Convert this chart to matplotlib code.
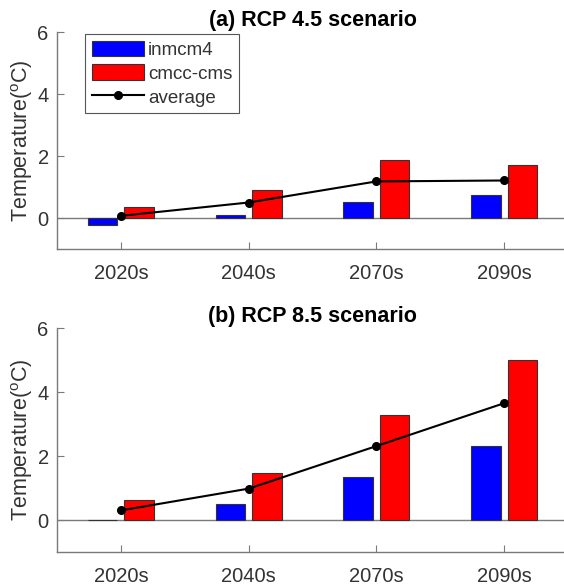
import matplotlib
matplotlib.use("Agg")
import matplotlib.pyplot as plt
import numpy as np

plt.rcParams['font.family'] = ['Liberation Sans', 'DejaVu Sans']

decades = ['2020s', '2040s', '2070s', '2090s']

# RCP 4.5
inmcm4_45 = [-0.23, 0.11, 0.51, 0.73]
cmcc_45 = [0.37, 0.89, 1.87, 1.70]
avg_45 = [0.07, 0.50, 1.18, 1.21]

# RCP 8.5
inmcm4_85 = [-0.01, 0.51, 1.34, 2.32]
cmcc_85 = [0.62, 1.47, 3.27, 4.99]
avg_85 = [0.30, 0.98, 2.31, 3.65]

titles = ['(a) RCP 4.5 scenario', '(b) RCP 8.5 scenario']

spine_col = '#7a7a7a'
text_col = '#333333'

fig = plt.figure(figsize=(5.64, 5.86), dpi=100)
ax1 = fig.add_axes([57/564, 1 - 249/586, 511/564, 217/586])
ax2 = fig.add_axes([57/564, 1 - 552/586, 511/564, 224/586])

x = np.arange(1, len(decades) + 1)
w = 0.23
off = 0.143

for ax, blue, red, avg, title in [(ax1, inmcm4_45, cmcc_45, avg_45, titles[0]),
                                  (ax2, inmcm4_85, cmcc_85, avg_85, titles[1])]:
    ax.axhline(0, color=spine_col, lw=1.0, zorder=1)
    ax.bar(x - off, blue, w, color='#0000ff', edgecolor='#333333', lw=0.8,
           label='inmcm4', zorder=2)
    ax.bar(x + off, red, w, color='#ff0000', edgecolor='#333333', lw=0.8,
           label='cmcc-cms', zorder=2)
    ax.plot(x, avg, '-o', color='black', lw=1.5, ms=5.5, label='average', zorder=3)

    ax.set_xlim(0.5, 4.5)
    ax.set_ylim(-1, 6)
    ax.set_yticks([0, 2, 4, 6])
    ax.set_xticks(x)
    ax.set_xticklabels(decades)
    ax.tick_params(direction='in', length=5, width=0.8, color=spine_col,
                   labelcolor=text_col, labelsize=14.5, pad=11)
    ax.tick_params(axis='y', pad=6)
    for s in ['top', 'right']:
        ax.spines[s].set_visible(False)
    for s in ['left', 'bottom']:
        ax.spines[s].set_color(spine_col)
        ax.spines[s].set_linewidth(1.0)
    ax.set_ylabel('Temperature($\\mathregular{^{o}}$C)', fontsize=15.5,
                  color=text_col, labelpad=2)
    ax.set_title(title, fontsize=15.5, fontweight='bold', color='black', pad=4)

# legend only on the top panel, bars first then the line
handles, labels = ax1.get_legend_handles_labels()
order = [labels.index(n) for n in ['inmcm4', 'cmcc-cms', 'average']]
leg = ax1.legend([handles[i] for i in order], [labels[i] for i in order],
                 loc='upper left', bbox_to_anchor=(0.055, 0.991),
                 borderaxespad=0, fontsize=13.5, handlelength=2.8,
                 handleheight=0.9, labelspacing=0.3, handletextpad=0.2,
                 borderpad=0.35, fancybox=False, framealpha=1)
leg.get_frame().set_edgecolor('#555555')
leg.get_frame().set_linewidth(0.8)
for t in leg.get_texts():
    t.set_color(text_col)

fig.savefig('out.png', dpi=100)
